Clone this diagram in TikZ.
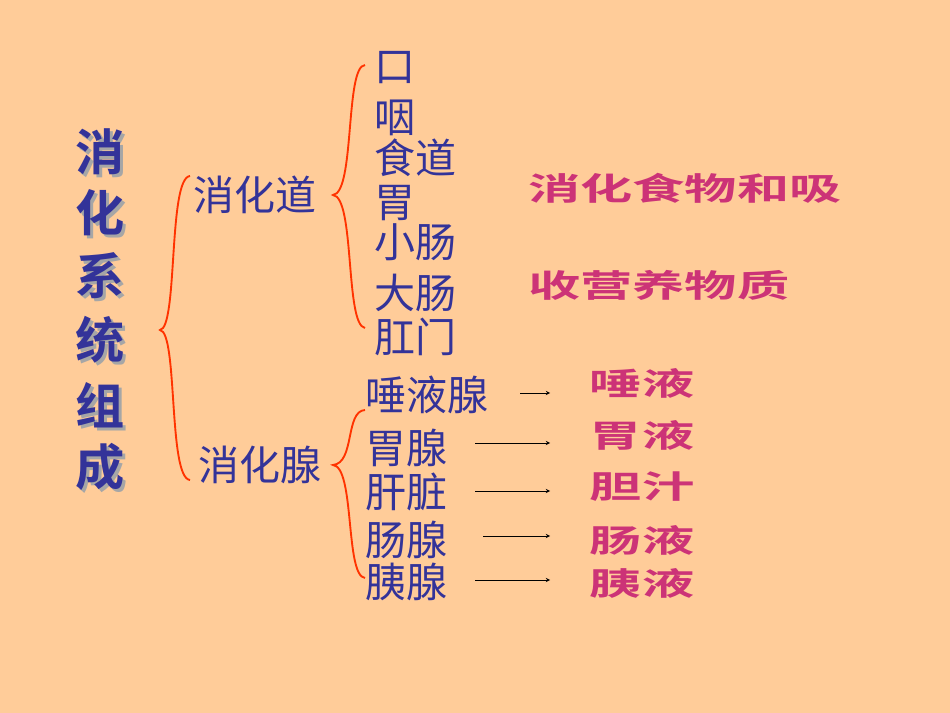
\documentclass[tikz,border=0pt]{standalone}
\usepackage{fontspec}
\newfontfamily\cjk{Noto Sans CJK SC}
\newfontfamily\cjkb{Noto Sans CJK SC Bold}
\definecolor{bg}{HTML}{FFCC99}
\definecolor{ink}{HTML}{333399}
\definecolor{pk}{HTML}{CC3377}
\definecolor{br}{HTML}{FF3300}
\begin{document}
\begin{tikzpicture}[x=0.03cm,y=-0.03cm,
  item/.style={anchor=west,inner sep=0,text=ink,font=\cjk\fontsize{35}{35}\selectfont},
  pink/.style={inner sep=0,text=pk,xscale=1.65,font=\cjkb\fontsize{27}{27}\selectfont},
  ttl/.style={inner sep=0,text=ink,font=\cjkb\fontsize{42}{42}\selectfont},
  brc/.style={draw=br,line width=1.6pt},
  arr/.style={-stealth,line width=0.6pt}]
\fill[bg] (0,0) rectangle (950,713);
\foreach \c/\y [count=\i] in {消/152,化/213,系/276,统/340,组/405,成/467}{
  \node[ttl,text=gray!70] (sh\i) at (103,\y+3) {\c};
  \node[ttl] (t\i) at (100,\y) {\c};}
\node[item] (d) at (193,195) {消化道};
\node[item] (g) at (198,465) {消化腺};
\draw[brc] (190,176) .. controls (168,178) and (178,328) .. (160,330) .. controls (178,332) and (168,478) .. (190,480);
\draw[brc] (365,65) .. controls (345,66) and (355,193) .. (333,195) .. controls (355,197) and (345,325) .. (365,328);
\draw[brc] (365,410) .. controls (345,411) and (355,463) .. (333,465) .. controls (355,467) and (345,576) .. (365,578);
\node[item] (i1) at (374,68) {口};
\node[item] (i2) at (374,118) {咽};
\node[item] (i3) at (374,158) {食道};
\node[item] (i4) at (374,203) {胃};
\node[item] (i5) at (374,242) {小肠};
\node[item] (i6) at (374,293) {大肠};
\node[item] (i7) at (374,337) {肛门};
\node[item] (s1) at (365,395) {唾液腺};
\node[item] (s2) at (365,448) {胃腺};
\node[item] (s3) at (365,492) {肝脏};
\node[item] (s4) at (365,540) {肠腺};
\node[item] (s5) at (365,582) {胰腺};
\node[pink,anchor=west] (p1) at (528,188) {消化食物和吸};
\node[pink,anchor=west] (p2) at (528,285) {收营养物质};
\node[pink] (y1) at (642,383) {唾液};
\node[pink] (y2) at (642,435) {胃液};
\node[pink] (y3) at (642,487) {胆汁};
\node[pink] (y4) at (642,540) {肠液};
\node[pink] (y5) at (642,583) {胰液};
\coordinate (a1) at (520,393); \coordinate (b1) at (550,393);
\coordinate (a2) at (475,443); \coordinate (b2) at (550,443);
\coordinate (a3) at (475,491); \coordinate (b3) at (550,491);
\coordinate (a4) at (483,536); \coordinate (b4) at (550,536);
\coordinate (a5) at (475,580); \coordinate (b5) at (550,580);
\foreach \k in {1,...,5}{\draw[arr] (a\k) -- (b\k);}
\end{tikzpicture}
\end{document}
